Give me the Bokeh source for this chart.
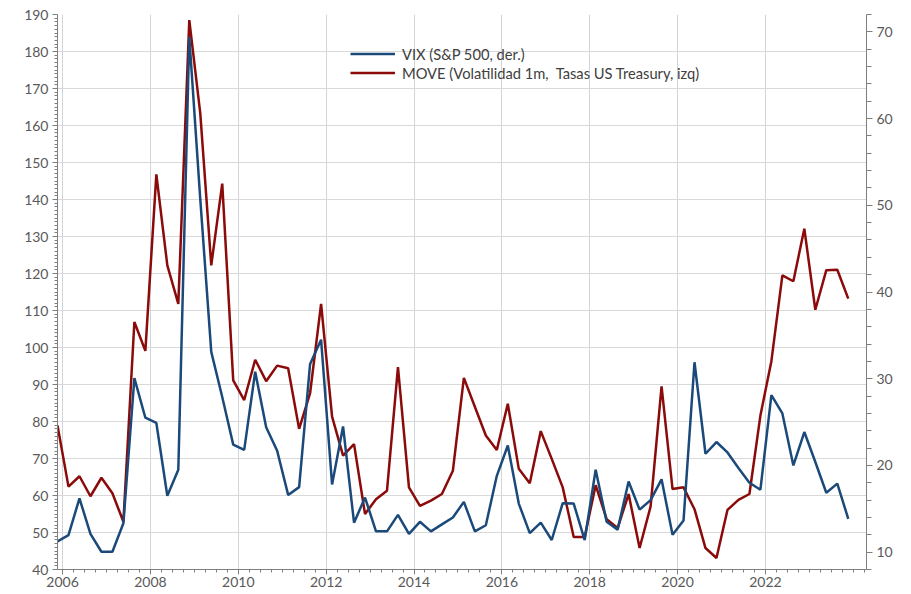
from bokeh.plotting import figure
from bokeh.models import Range1d, LinearAxis, FixedTicker, Legend, LegendItem
from bokeh.embed import file_html
from bokeh.resources import INLINE

# Quarterly observations, Nov-2005 .. Nov-2023
start_year = 2005.885
step = 0.25

vix = [11.24, 11.97, 16.2, 12.1, 10.05, 10.05, 13.33, 30.06, 25.5, 24.9,
       16.5, 19.5, 69.4, 50.7, 33.1, 27.9, 22.4, 21.8, 30.8, 24.4,
       21.7, 16.6, 17.5, 31.7, 34.5, 17.8, 24.5, 13.4, 16.3, 12.4,
       12.4, 14.3, 12.1, 13.5, 12.4, 13.2, 14.0, 15.8, 12.4, 13.1,
       18.8, 22.3, 15.6, 12.2, 13.4, 11.4, 15.65, 15.6, 11.4, 19.5,
       13.5, 12.6, 18.15, 14.9, 16.0, 18.4, 12.0, 13.65, 31.9, 21.35,
       22.7, 21.5, 19.7, 18.0, 17.2, 28.1, 26.0, 20.0, 23.85, 20.4,
       16.85, 17.9, 13.85]

move = [78.9, 62.4, 65.2, 59.8, 64.8, 60.6, 52.9, 106.9, 99.1, 146.8,
        122.2, 111.8, 188.5, 163.3, 122.2, 144.3, 91.1, 85.8, 96.7, 90.9,
        95.1, 94.4, 78.0, 87.7, 111.8, 81.3, 70.8, 73.9, 55.0, 59.0,
        61.3, 94.7, 62.2, 57.2, 58.6, 60.4, 66.7, 91.8, 84.0, 76.2,
        72.3, 84.8, 67.2, 63.3, 77.4, 69.9, 62.2, 48.8, 48.8, 62.8,
        53.6, 51.2, 60.4, 45.8, 57.0, 89.5, 61.75, 62.2, 56.3, 45.8,
        43.1, 56.1, 58.8, 60.4, 81.6, 96.3, 119.5, 117.9, 132.1, 110.2,
        120.9, 121.0, 113.2]

x_years = [2006, 2008, 2010, 2012, 2014, 2016, 2018, 2020, 2022]
left_ticks = list(range(40, 191, 10))
right_ticks = list(range(10, 71, 10))

label_vix = "VIX (S&P 500, der.)"
label_move = "MOVE (Volatilidad 1m,  Tasas US Treasury, izq)"

t = [start_year + step * i for i in range(len(vix))]

FONT = "Lato"
TXT = "#595959"
AX = "#7f7f7f"

W, H = 895, 592
BL, BR, BT, BB = 57, 29, 14, 23
frame_h = H - BT - BB

p = figure(width=W, height=H, output_backend="svg", toolbar_location=None,
           x_range=Range1d(2005.885, 2024.3), y_range=Range1d(40, 190),
           min_border_left=BL, min_border_right=BR, min_border_top=BT, min_border_bottom=BB)
p.outline_line_color = None
p.background_fill_color = "white"
p.extra_y_ranges = {"vix": Range1d(8, 72)}

# x axis
xa = p.xaxis[0]
xa.ticker = FixedTicker(ticks=x_years,
                        minor_ticks=[2006 + 0.25 * k for k in range(0, 74)])
xa.axis_line_color = AX
xa.major_tick_line_color = AX
xa.minor_tick_line_color = AX
xa.major_tick_out = 5
xa.major_tick_in = 0
xa.minor_tick_out = 3
xa.minor_tick_in = 0
xa.major_label_standoff = 2
xa.major_label_text_font = FONT
xa.major_label_text_font_size = "14px"
xa.major_label_text_color = TXT

# left axis
ya = p.yaxis[0]
ya.ticker = FixedTicker(ticks=left_ticks, minor_ticks=list(range(40, 191, 1)))
ya.axis_line_color = AX
ya.major_tick_line_color = AX
ya.minor_tick_line_color = AX
ya.major_tick_out = 5
ya.major_tick_in = 0
ya.minor_tick_out = 3
ya.minor_tick_in = 0
ya.major_label_standoff = 4
ya.major_label_text_font = FONT
ya.major_label_text_font_size = "14px"
ya.major_label_text_color = TXT

# right axis
ra = LinearAxis(y_range_name="vix",
                ticker=FixedTicker(ticks=right_ticks, minor_ticks=list(range(8, 73, 2))))
ra.axis_line_color = AX
ra.major_tick_line_color = AX
ra.minor_tick_line_color = AX
ra.major_tick_out = 6
ra.major_tick_in = 0
ra.minor_tick_out = 5
ra.minor_tick_in = 0
ra.major_label_standoff = 4
ra.major_label_text_font = FONT
ra.major_label_text_font_size = "14px"
ra.major_label_text_color = TXT
p.add_layout(ra, "right")

p.ygrid.grid_line_color = "#d9d9d9"
p.xgrid.grid_line_color = "#cfd5d8"
p.ygrid.grid_line_width = 1
p.xgrid.grid_line_width = 1

r_move = p.line(t, move, line_color="#8B0A0A", line_width=2.5)
r_vix = p.line(t, vix, y_range_name="vix", line_color="#1B4A7A", line_width=2.5)

legend = Legend(items=[LegendItem(label=label_vix, renderers=[r_vix]),
                       LegendItem(label=label_move, renderers=[r_move])],
                location=(293, frame_h - 68))
legend.padding = 0
legend.margin = 0
legend.spacing = 0
legend.glyph_width = 45
legend.glyph_height = 19
legend.label_height = 19
legend.label_standoff = 7
legend.label_text_font = FONT
legend.label_text_font_size = "14.7px"
legend.label_text_color = "#404040"
legend.border_line_color = None
legend.background_fill_alpha = 0
p.add_layout(legend)

open("out.html", "w").write(file_html(p, INLINE))
